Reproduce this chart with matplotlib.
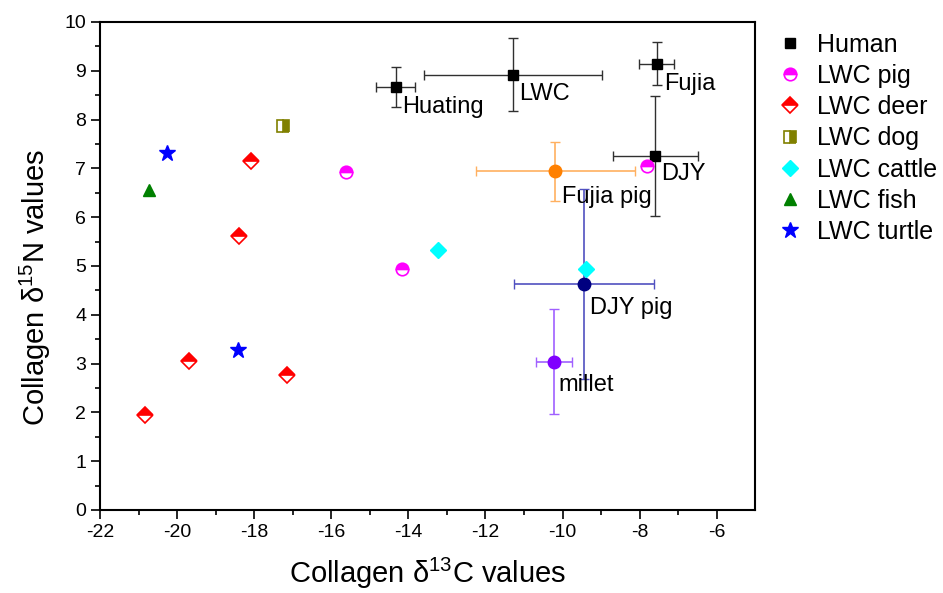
import numpy as np
import matplotlib
matplotlib.use('Agg')
from matplotlib import pyplot as plt

plt.rcParams['font.family'] = ['Liberation Sans', 'DejaVu Sans']
plt.rcParams['mathtext.default'] = 'regular'
plt.rcParams['axes.unicode_minus'] = False

# Human groups (mean +/- sd)
human_names = ['Huating', 'LWC', 'Fujia', 'DJY']
human_c = [-14.33, -11.28, -7.56, -7.60]
human_n = [8.66, 8.92, 9.14, 7.26]
human_cerr = [0.50, 2.31, 0.45, 1.10]
human_nerr = [0.41, 0.75, 0.44, 1.23]

# LWC fauna
pig_c = [-15.61, -14.16, -7.80]
pig_n = [6.92, 4.93, 7.04]
deer_c = [-18.09, -18.40, -19.69, -17.15, -20.83]
deer_n = [7.15, 5.62, 3.05, 2.77, 1.94]
dog_c = [-17.24]
dog_n = [7.87]
cattle_c = [-13.24, -9.38]
cattle_n = [5.32, 4.94]
fish_c = [-20.74]
fish_n = [6.56]
turtle_c = [-20.26, -18.43]
turtle_n = [7.32, 3.27]

# reference groups (mean +/- sd)
ref_names = ['Fujia pig', 'DJY pig', 'millet']
ref_c = [-10.19, -9.45, -10.23]
ref_n = [6.94, 4.63, 3.04]
ref_cerr = [2.06, 1.81, 0.47]
ref_nerr = [0.60, 1.95, 1.07]
ref_colors = ['#FF8000', '#000080', '#8000FF']
ref_ecolors = ['#FFB060', '#5050C0', '#A060FF']

# label offsets in points (dx, dy)
human_offsets = [(5, -14.5), (4.5, -14), (5.5, -14.5), (4, -13.5)]
ref_offsets = [(5, -18.5), (4.5, -17.5), (3.5, -17)]

fig = plt.figure(figsize=(9.43, 5.93), dpi=100, facecolor='w')
ax = fig.add_axes([0.106, 0.140, 0.695, 0.823])

# error bars first
ax.errorbar(human_c, human_n, xerr=human_cerr, yerr=human_nerr, fmt='none',
            ecolor='#303030', elinewidth=1, capsize=3.5, capthick=1, zorder=2)
for i in range(len(ref_c)):
    ax.errorbar(ref_c[i], ref_n[i], xerr=ref_cerr[i], yerr=ref_nerr[i], fmt='o',
                color=ref_colors[i], ecolor=ref_ecolors[i], ms=9, elinewidth=1.2,
                capsize=3.5, capthick=1, zorder=3)

ax.plot(human_c, human_n, 's', color='k', ms=7, label='Human', zorder=4)
ax.plot(pig_c, pig_n, 'o', ls='none', ms=9, color='#FF00FF', fillstyle='top',
        markerfacecoloralt='white', markeredgecolor='#FF00FF', mew=1.2,
        label='LWC pig', zorder=4)
ax.plot(deer_c, deer_n, 'D', ls='none', ms=8, color='#FF0000', fillstyle='top',
        markerfacecoloralt='white', markeredgecolor='#FF0000', mew=1.2,
        label='LWC deer', zorder=4)
ax.plot(dog_c, dog_n, 's', ls='none', ms=8, color='#808000', fillstyle='right',
        markerfacecoloralt='white', markeredgecolor='#808000', mew=1.2,
        label='LWC dog', zorder=4)
ax.plot(cattle_c, cattle_n, 'D', ls='none', ms=8, color='#00FFFF',
        label='LWC cattle', zorder=4)
ax.plot(fish_c, fish_n, '^', ls='none', ms=9, color='#008000',
        label='LWC fish', zorder=4)
ax.plot(turtle_c, turtle_n, '*', ls='none', ms=12, color='#0000FF',
        label='LWC turtle', zorder=4)

for name, x, y, off in zip(human_names, human_c, human_n, human_offsets):
    ax.annotate(name, (x, y), xytext=off, textcoords='offset points',
                ha='left', va='center', fontsize=17)
for name, x, y, off in zip(ref_names, ref_c, ref_n, ref_offsets):
    ax.annotate(name, (x, y), xytext=off, textcoords='offset points',
                ha='left', va='center', fontsize=17, zorder=5)

ax.set_xlim(-22, -5)
ax.set_ylim(0, 10)
ax.set_xticks(np.arange(-22, -5, 2))
ax.set_xticks(np.arange(-22, -5, 1), minor=True)
ax.set_yticks(np.arange(0, 11, 1))
ax.set_yticks(np.arange(0, 10.5, 0.5), minor=True)
ax.tick_params(axis='both', which='major', labelsize=14, length=6.5, width=1.2,
               direction='out')
ax.tick_params(axis='both', which='minor', length=3.6, width=1.2, direction='out')
for sp in ax.spines.values():
    sp.set_linewidth(1.5)

ax.set_xlabel(r'Collagen $\delta^{13}$C values', fontsize=21, labelpad=11)
ax.set_ylabel(r'Collagen $\delta^{15}$N values', fontsize=21)
ax.yaxis.set_label_coords(-0.071, 0.457)

ax.legend(loc='upper left', bbox_to_anchor=(0.824, 0.945),
          bbox_transform=fig.transFigure, frameon=False, fontsize=18,
          handlelength=1.0, handletextpad=0.6, labelspacing=0.29,
          numpoints=1, borderaxespad=0, borderpad=0)

plt.savefig('out.png', dpi=100)
